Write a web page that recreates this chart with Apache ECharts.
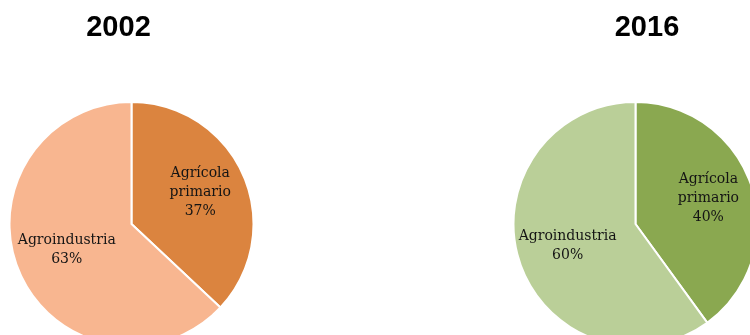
<!DOCTYPE html>
<html>
<head>
<meta charset="utf-8">
<script src="https://cdn.jsdelivr.net/npm/echarts@6/dist/echarts.min.js"></script>
<style>
  html, body { margin: 0; padding: 0; background: #ffffff; }
  #chart { width: 750px; height: 335px; }
</style>
</head>
<body>
<div id="chart"></div>
<script>
// Composition of the agricultural sector, by year (percent)
const years = ['2002', '2016'];
const categories = ['Agrícola primario', 'Agroindustria'];
const share2002 = [37, 63];
const share2016 = [40, 60];

const palettes = [
  ['#DB843F', '#F8B690'],
  ['#8AA850', '#BACF98']
];
const centers = [[131.5, 224], [635.5, 224]];
const titleX = [113.5, 642];
// small nudges pushing the inside labels a bit further from the centre
const labelNudge = [
  [[10, -6], [-6, 0]],
  [[12, -6], [-7, 2]]
];

const chart = echarts.init(document.getElementById('chart'), null, { renderer: 'canvas' });

function makeSeries(idx, values) {
  return {
    type: 'pie',
    center: centers[idx],
    radius: 122,
    startAngle: 90,
    clockwise: true,
    animation: false,
    silent: true,
    itemStyle: { borderColor: '#ffffff', borderWidth: 2 },
    label: {
      show: true,
      position: 'inside',
      fontFamily: 'DejaVu Serif',
      fontSize: 14,
      lineHeight: 19,
      color: '#141414',
      align: 'center',
      formatter: p => p.name.replace(' ', '\n') + '\n' + p.value + '%'
    },
    labelLine: { show: false },
    labelLayout: p => ({ dx: labelNudge[idx][p.dataIndex][0], dy: labelNudge[idx][p.dataIndex][1] }),
    data: categories.map((c, i) => ({
      name: c,
      value: values[i],
      itemStyle: { color: palettes[idx][i] }
    }))
  };
}

chart.setOption({
  backgroundColor: '#ffffff',
  title: years.map((y, i) => ({
    text: y,
    left: titleX[i],
    top: 8,
    textAlign: 'center',
    textStyle: {
      fontFamily: 'Liberation Sans',
      fontWeight: 'bold',
      fontSize: 29,
      color: '#000000'
    }
  })),
  series: [makeSeries(0, share2002), makeSeries(1, share2016)]
});
</script>
</body>
</html>
